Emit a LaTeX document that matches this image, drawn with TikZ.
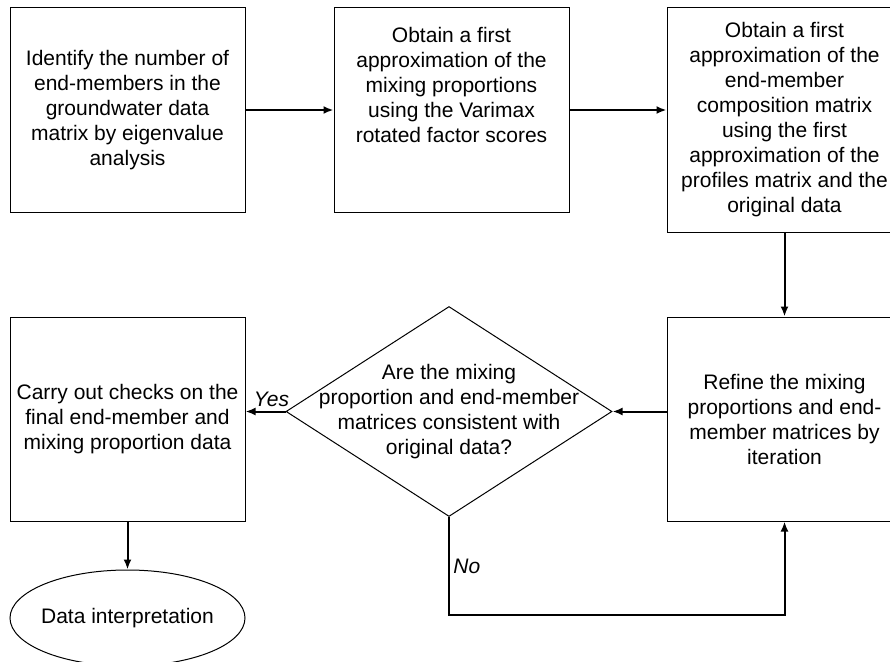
\documentclass[tikz,border=0pt]{standalone}
\usepackage{fontspec}
\setmainfont{Liberation Sans}
\usetikzlibrary{positioning,shapes.geometric,arrows.meta}
\begin{document}
\begin{tikzpicture}[->,>={Latex[length=10pt,width=8pt]},x=1pt,y=-1pt,line width=2pt,
    font=\fontsize{21}{25}\selectfont,
    main node/.style={draw,line width=1pt,minimum width=235pt,minimum height=204pt,align=center,inner sep=0pt},
    check node/.style={draw,diamond,line width=1pt,minimum width=326pt,minimum height=210pt,inner sep=0pt},
    end node/.style={draw,ellipse,line width=1pt,minimum width=235pt,minimum height=96pt,inner xsep=-10pt,inner ysep=0pt}]
    \useasboundingbox (0,0) rectangle (890,661);
    \node[main node] (1) at (127.5,110) {Identify the number of\\end-members in the\\groundwater data\\matrix by eigenvalue\\analysis};
    \node[main node] (2) [right=88pt of 1] {Obtain a first\\approximation of the\\mixing proportions\\using the Varimax\\rotated factor scores\\ \mbox{}\\ \mbox{}};
    \node[main node] (3) [right=97pt of 2.north east,anchor=north west,minimum height=224pt] {Obtain a first\\approximation of the\\end-member\\composition matrix\\using the first\\approximation of the\\profiles matrix and the\\original data};
    \node[main node] (4) [below=84pt of 3] {Refine the mixing\\proportions and end-\\member matrices by\\iteration};
    \node[check node] (6) [left=54pt of 4,yshift=7.5pt,label={[align=center]center:Are the mixing\\proportion and end-member\\matrices consistent with\\original data?}] {};
    \node[main node] (5) [below=104pt of 1] {Carry out checks on the\\final end-member and\\mixing proportion data};
    \node[end node] (7) [below=48pt of 5] {Data interpretation};
    \draw (1) -- (2);
    \draw (2.east |- 1.east) -- (1.east -| 3.west);
    \draw (3) -- (4);
    \draw (4.west |- 6.east) -- (6.east);
    \draw (6.west) -- node[pos=0.35,above] {\textit{Yes}} (6.west -| 5.east);
    \draw (5) -- (7);
    \draw (6.south) -- ++(0,98) node[midway,right] {\textit{No}} -| (4.south);
\end{tikzpicture}
\end{document}
